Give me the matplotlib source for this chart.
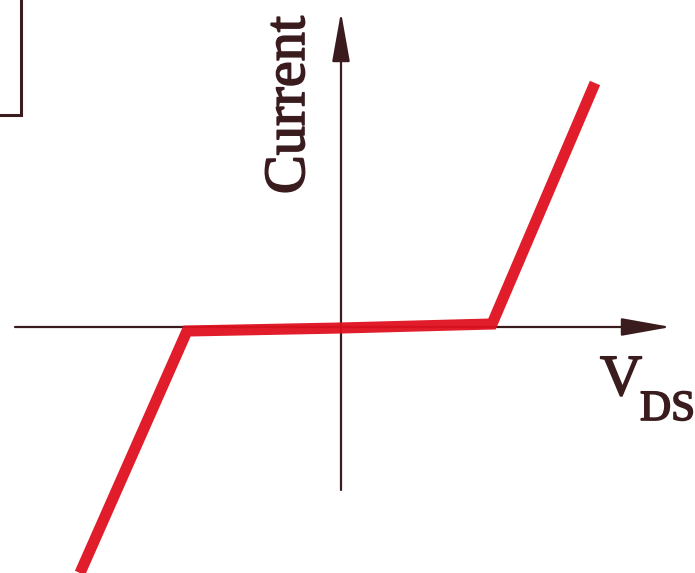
import matplotlib.pyplot as plt
import matplotlib.patheffects as path_effects

# I-V curve, arbitrary units (origin at axes crossing)
v_ds = [-5.22, -3.08, 0.0, 3.02, 5.08]
current = [-4.92, -0.08, -0.02, 0.06, 4.88]

ink = "#3b1c1e"
red = "#e0101f"

fig = plt.figure(figsize=(6.95, 5.73), dpi=100)
ax = fig.add_axes([0, 0, 1, 1])
ax.set_xlim(-6.82, 7.08)
ax.set_ylim(-4.92, 6.54)
ax.axis("off")

# axes with arrowheads
arrow = dict(arrowstyle="-|>,head_length=1.4,head_width=0.25", color=ink,
             lw=1.6, shrinkA=0, shrinkB=0, mutation_scale=22)
ax.annotate("", xy=(6.6, 0), xytext=(-6.52, 0), arrowprops=arrow)
ax.annotate("", xy=(0, 6.3), xytext=(0, -3.26), arrowprops=arrow)

# corner of a frame at top left
ax.plot([-6.4, -6.4, -7.0], [6.7, 4.24, 4.24], color=ink, lw=2.2,
        solid_joinstyle="miter", clip_on=False)

ax.plot(v_ds, current, color=red, lw=8, solid_joinstyle="miter",
        solid_capstyle="butt", alpha=0.95, zorder=3)

pe = [path_effects.Stroke(linewidth=1.2, foreground=ink), path_effects.Normal()]
ax.text(-1.02, 4.44, "Current", rotation=90, ha="center", va="center",
        family="Liberation Serif", fontsize=42, color=ink, path_effects=pe)
ax.text(5.18, -1.36, "V", ha="left", va="baseline",
        family="Liberation Serif", fontsize=42, color=ink, path_effects=pe)
ax.text(5.98, -1.86, "DS", ha="left", va="baseline",
        family="Liberation Serif", fontsize=31, color=ink, path_effects=pe)

fig.savefig("out.png", dpi=100)
